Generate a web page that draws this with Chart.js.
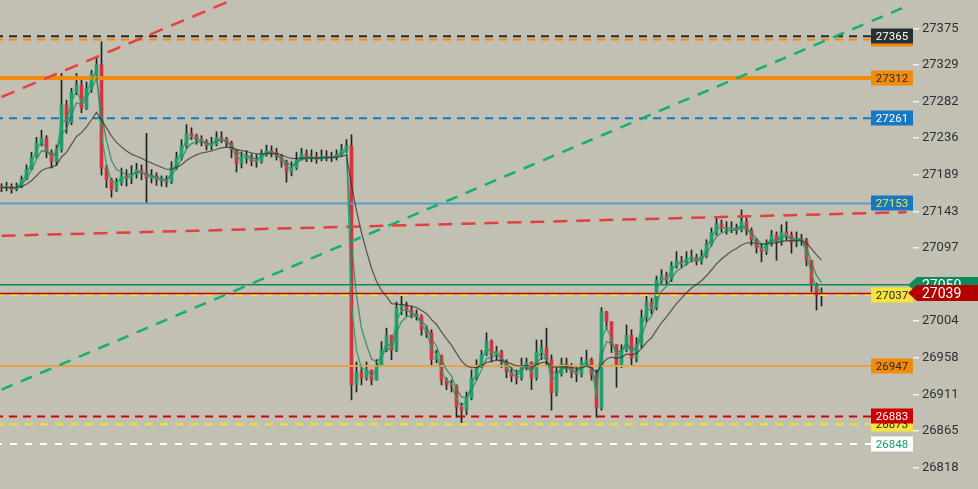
<!DOCTYPE html>
<html>
<head>
<meta charset="utf-8">
<script src="https://cdn.jsdelivr.net/npm/chart.js@4.4.1/dist/chart.umd.min.js"></script>
<style>
  html, body { margin: 0; padding: 0; background: #c2c0b3; }
  #wrap { width: 978px; height: 489px; }
</style>
</head>
<body>
<div id="wrap"><canvas id="c" width="978" height="489"></canvas></div>
<script>

// price data, one candle per slot (open = previous close)
const firstOpen = 27175

const closes = [
  27173,27175,27171,27174,27183,27196,27211,27230,27236,27218, 27206,27221,27278,27256,27294,27303,27274,27299,27317,27329,
  27198,27183,27170,27179,27188,27185,27190,27196,27193,27185, 27188,27183,27182,27180,27198,27211,27226,27242,27239,27234,
  27232,27226,27228,27237,27235,27230,27221,27204,27211,27212, 27207,27206,27217,27220,27218,27213,27206,27193,27198,27208,
  27216,27211,27212,27209,27213,27212,27211,27215,27221,27226, 26923,26939,26932,26942,26929,26947,26967,26986,26967,27021,
  27024,27018,27013,27010,26993,26989,26955,26960,26929,26923, 26922,26895,26891,26906,26932,26947,26961,26978,26961,26965,
  26952,26939,26934,26932,26947,26952,26932,26965,26970,26955, 26913,26937,26950,26947,26939,26936,26952,26955,26936,26894,
  27016,27003,26974,26948,26967,26986,26957,26974,27008,27028, 27021,27056,27062,27057,27074,27080,27078,27084,27085,27080,
  27086,27102,27116,27127,27123,27121,27122,27119,27130,27119, 27107,27097,27092,27102,27113,27104,27117,27113,27104,27108,
  27107,27081,27050,27037,27038
]

const highs = [
  27178,27180,27178,27179,27188,27202,27218,27237,27246,27239, 27221,27227,27318,27284,27299,27318,27310,27307,27322,27337,
  27358,27202,27185,27185,27198,27196,27201,27204,27202,27242, 27196,27192,27188,27188,27206,27218,27234,27253,27249,27241,
  27239,27234,27237,27244,27244,27237,27232,27221,27218,27220, 27216,27215,27221,27227,27226,27223,27215,27208,27206,27218,
  27223,27221,27221,27218,27221,27220,27218,27221,27228,27234, 27240,26952,26948,26952,26942,26955,26978,26995,26985,27028,
  27037,27028,27023,27018,27012,26998,26993,26967,26961,26932, 26929,26923,26900,26914,26942,26955,26967,26989,26980,26972,
  26967,26955,26945,26942,26957,26957,26952,26980,26980,26995, 26961,26945,26957,26957,26950,26945,26958,26967,26957,26942,
  27021,27016,27003,26974,26974,26999,26993,26983,27018,27036, 27033,27061,27069,27066,27079,27092,27086,27092,27094,27089,
  27094,27107,27122,27135,27132,27130,27130,27127,27145,27135, 27122,27109,27102,27107,27119,27117,27126,27130,27117,27117,
  27114,27109,27079,27052,27046
]

const lows = [
  27168,27169,27166,27169,27173,27185,27198,27215,27226,27211, 27198,27201,27218,27242,27253,27291,27268,27272,27294,27312,
  27189,27173,27161,27168,27176,27175,27178,27185,27183,27154, 27179,27176,27175,27174,27178,27196,27208,27223,27234,27228,
  27226,27221,27221,27226,27230,27225,27211,27193,27198,27204, 27201,27199,27204,27213,27212,27208,27199,27180,27188,27196,
  27208,27206,27206,27204,27207,27207,27206,27208,27213,27218, 26904,26914,26923,26929,26923,26932,26947,26965,26955,26965,
  27012,27010,27008,27005,26986,26983,26946,26951,26923,26917, 26914,26882,26875,26885,26904,26929,26945,26960,26952,26955,
  26945,26932,26927,26924,26929,26942,26917,26929,26955,26947, 26891,26909,26934,26939,26932,26927,26933,26947,26929,26882,
  26891,26993,26964,26920,26945,26965,26948,26952,26970,27003, 27013,27018,27052,27051,27054,27071,27071,27075,27079,27075,
  27076,27084,27099,27113,27117,27114,27116,27114,27117,27113, 27100,27090,27079,27088,27099,27081,27100,27107,27090,27098,
  27100,27074,27041,27018,27023
]

// horizontal price levels and the right-hand tags
const levels    = [27365, 27361, 27312, 27261, 27153, 27050, 27039, 27037, 26947, 26883, 26873, 26848]
const yTicks    = [26818, 26865, 26911, 26958, 27004, 27050, 27097, 27143, 27189, 27236, 27282, 27329, 27375]

// trend lines, [slot, price] pairs
const trendRedTop = [[0, 27288], [60, 27448]]
const trendRedMid = [[0, 27112], [181, 27142]]
const trendGreen  = [[0, 26917], [181, 27403]]

const yMin = 26791, yMax = 27411
const xMin = -0.3, xMax = 182.3


const GREEN = '#1f9d6c', RED = '#d8323e', WICK = '#1c2326'

const levelStyle = {
  27365: { line:'#24292d', w:2,   dash:[8,6],  tag:'#2a2f34', txt:'#ffffff' },
  27361: { line:'#f28a10', w:2,   dash:[8,6],  tag:'#f28a10', txt:'#2a2a2a' },
  27312: { line:'#f28a0c', w:4,   dash:[],     tag:'#f28a0c', txt:'#2a2a2a' },
  27261: { line:'#1478c6', w:2,   dash:[8,6],  tag:'#1478c6', txt:'#ffffff' },
  27153: { line:'#5b9dc6', w:2,   dash:[],     tag:'#1478c6', txt:'#f2e84a' },
  27050: { line:'#0b8a5a', w:1.5, dash:[],     arrow:'#0b8a5a', txt:'#ffffff' },
  27039: { line:'#c00000', w:1.5, dash:[],     arrow:'#b40000', txt:'#ffffff' },
  27037: { line:'#f6e032', w:2,   dash:[8,7],  tag:'#f6e43c', txt:'#2a2a2a' },
  26947: { line:'#e8a347', w:2,   dash:[],     tag:'#f28a0c', txt:'#2a2a2a' },
  26883: { line:'#d40000', w:2,   dash:[8,6],  tag:'#cc0000', txt:'#ffffff' },
  26873: { line:'#f6e032', w:2,   dash:[8,7],  tag:'#f6e43c', txt:'#2a2a2a' },
  26848: { line:'#ffffff', w:2,   dash:[7,8],  tag:'#ffffff', txt:'#13a06a' },
}
// tags drawn in this order so the overlaps come out right
const tagOrder = [27361, 27365, 27312, 27261, 27153, 27037, 26947, 26873, 26883, 26848, 27050, 27039]


function ema(src, n){
      const a = 2/(n+1)
      let e = src[0]
      return src.map((v,i)=>{ e = i ? a*v + (1-a)*e : v; return e })
}

const opens = closes.map((c,i)=> i ? closes[i-1] : firstOpen)

const wickData = closes.map((c,i)=>({ x:i, y:[Math.min(lows[i],opens[i],c), Math.max(highs[i],opens[i],c)] }))
const bodyData = closes.map((c,i)=>({ x:i, y:[opens[i], c] }))
const bodyColor = closes.map((c,i)=> c >= opens[i] ? GREEN : RED)

const maLine = (vals)=> vals.map((v,i)=>({ x:i, y:v }))

const levelSets = levels.map(p => ({
      type:'line', order: 3,
      data:[{x:xMin-1, y:p},{x:xMax+1, y:p}],
      borderColor: levelStyle[p].line, borderWidth: levelStyle[p].w, borderDash: levelStyle[p].dash,
      pointRadius:0, fill:false,
}))

const trendSet = (pts, color, dash)=>({
      type:'line', order: 2,
      data: pts.map(p=>({x:p[0], y:p[1]})),
      borderColor: color, borderWidth: 2.5, borderDash: dash,
      pointRadius:0, fill:false,
})


const bgPlugin = {
      id:'bg',
      beforeDraw(chart){
            const ctx = chart.ctx
            ctx.save()
            ctx.fillStyle = '#c2c0b3'
            ctx.fillRect(0,0,chart.width,chart.height)
            ctx.restore()
      }
}

const tagPlugin = {
      id:'tags',
      afterDraw(chart){
            const ctx = chart.ctx, ys = chart.scales.y
            ctx.save()
            tagOrder.forEach(p=>{
                  const s = levelStyle[p], y = Math.round(ys.getPixelForValue(p))
                  if(s.arrow){
                        ctx.fillStyle = s.arrow
                        ctx.beginPath()
                        ctx.moveTo(908, y)
                        ctx.lineTo(917, y-8)
                        ctx.lineTo(978, y-8)
                        ctx.lineTo(978, y+8)
                        ctx.lineTo(917, y+8)
                        ctx.closePath()
                        ctx.fill()
                        ctx.fillStyle = s.txt
                        ctx.font = '14px Roboto'
                        ctx.textAlign = 'left'; ctx.textBaseline = 'middle'
                        ctx.fillText(String(p), 922, y+1)
                  }else{
                        ctx.fillStyle = s.tag
                        ctx.fillRect(871, y-7.5, 42, 15)
                        ctx.fillStyle = s.txt
                        ctx.font = '11.5px Roboto'
                        ctx.textAlign = 'center'; ctx.textBaseline = 'middle'
                        ctx.fillText(String(p), 892, y+1)
                  }
            })
            ctx.restore()
      }
}


const setup = {
      type:'bar',
      data:{
            datasets:[
                  ...levelSets,
                  trendSet(trendRedTop, '#e8413f', [14,9]),
                  trendSet(trendRedMid, '#e2403f', [14,9]),
                  trendSet(trendGreen,  '#14b06c', [12,9]),
                  { type:'bar', order:6, data: wickData, backgroundColor: WICK, barThickness:1, grouped:false, borderWidth:0 },
                  { type:'bar', order:5, data: bodyData, backgroundColor: bodyColor, barThickness:3, grouped:false, borderWidth:0, minBarLength:1 },
                  { type:'line', order:1, data: maLine(ema(closes,14)), borderColor:'rgba(45,45,45,0.75)', borderWidth:1.2, pointRadius:0 },
                  { type:'line', order:1, data: maLine(ema(closes,4)),  borderColor:'rgba(40,135,100,0.85)', borderWidth:1.3, pointRadius:0 },
                  { type:'line', order:1, data: maLine(ema(closes,2)),  borderColor:'rgba(30,165,105,0.9)', borderWidth:1.3, pointRadius:0 },
            ]
      },
      options:{
            responsive:false,
            animation:false,
            devicePixelRatio:1,
            layout:{ padding:0 },
            plugins:{ legend:{display:false}, tooltip:{enabled:false} },
            scales:{
                  x:{ type:'linear', min:xMin, max:xMax, offset:false, display:false },
                  y:{
                        type:'linear', position:'right', min:yMin, max:yMax,
                        afterBuildTicks: s => { s.ticks = yTicks.map(v=>({value:v})) },
                        afterFit: s => { s.width = 65; s.paddingTop = 0; s.paddingBottom = 0 },
                        border:{ display:false },
                        grid:{ drawOnChartArea:false, drawTicks:true, tickLength:6, color:'#f4f4f0', lineWidth:1.5 },
                        ticks:{ color:'#2e3033', padding:3, font:{ family:'Roboto', size:13 }, callback: v => String(v) }
                  }
            }
      },
      plugins:[bgPlugin, tagPlugin]
}

new Chart(document.getElementById('c'), setup)

</script>
</body>
</html>
